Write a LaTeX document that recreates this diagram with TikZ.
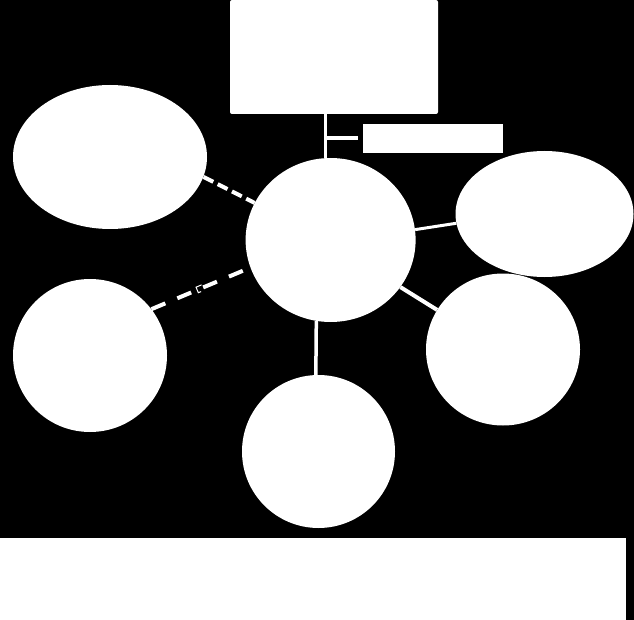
\documentclass[tikz,border=0pt]{standalone}
\usetikzlibrary{shapes.geometric}
\begin{document}
\begin{tikzpicture}[x=1pt,y=-1pt,
  blob/.style={ellipse,fill=white,draw=none,inner sep=0pt},
  panel/.style={rectangle,fill=white,draw=none,inner sep=0pt},
  solidlink/.style={white,line width=3pt},
  dashlink/.style={white,line width=4pt,dash pattern=on 11pt off 5pt},
  dashlinkb/.style={white,line width=4pt,dash pattern=on 15pt off 13pt},
  marker/.style={rectangle,draw=white,fill=black,line width=1pt,minimum size=6pt,inner sep=0pt}]
\fill[black] (0,0) rectangle (634,620);
\useasboundingbox (0,0) rectangle (634,620);
% boxes
\node[panel,rounded corners=2pt,minimum width=208pt,minimum height=114pt] (top) at (334,57) {};
\node[panel,minimum width=140pt,minimum height=29pt] (note) at (433,138.5) {};
\node[panel,minimum width=626pt,minimum height=82pt] (bottom) at (313,579) {};
% ellipses
\node[blob,minimum width=170pt,minimum height=164pt] (c) at (330.6,240) {};
\node[blob,minimum width=194pt,minimum height=144pt] (ul) at (110,157) {};
\node[blob,minimum width=178pt,minimum height=126pt] (r) at (544.5,214) {};
\node[blob,minimum width=154pt,minimum height=153pt] (ll) at (90,355.5) {};
\node[blob,minimum width=154pt,minimum height=152pt] (lr) at (503,349.5) {};
\node[blob,minimum width=153pt,minimum height=153pt] (b) at (318.5,451.5) {};
% connectors
\coordinate (j) at (325,138);
\coordinate (k) at (358,138);
\draw[solidlink] (top.south -| j) -- (c.north -| j);
\draw[white,line width=4.5pt] (j) -- (k);
\draw[solidlink] (c.7.6) -- (r.186.4);
\draw[white,line width=4pt] (c.-34) -- (lr.149);
\draw[white,line width=3.5pt] (c.-100) -- (b.92);
\draw[dashlink] (ul.-12) -- (c.154);
\draw[dashlinkb] (ll.37) -- (c.199.8) node[marker,pos=0.49,sloped] (m) {};
\end{tikzpicture}
\end{document}
